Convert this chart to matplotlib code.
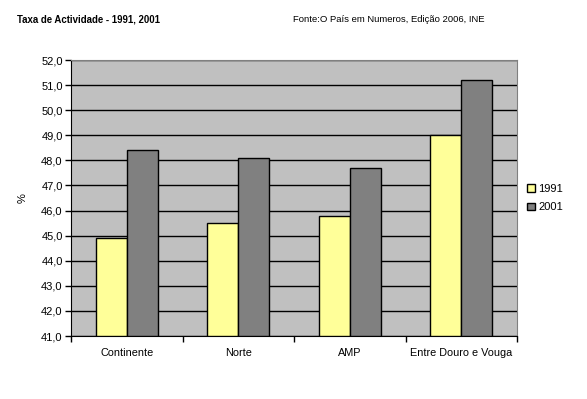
import numpy as np
import matplotlib.pyplot as plt
from matplotlib.ticker import FuncFormatter, MultipleLocator

categories = ['Continente', 'Norte', 'AMP', 'Entre Douro e Vouga']
values_1991 = [44.9, 45.5, 45.8, 49.0]
values_2001 = [48.4, 48.1, 47.7, 51.2]

plt.rcParams['font.family'] = ['Liberation Sans', 'DejaVu Sans']

fig = plt.figure(figsize=(5.87, 3.99), dpi=100)
ax = fig.add_axes([71 / 587, 63 / 399, 446 / 587, 276 / 399])
ax.set_facecolor('#C0C0C0')

x = np.arange(len(categories))
w = 0.28
ax.bar(x - w / 2, np.array(values_1991) - 41, w, bottom=41, color='#FFFF99',
       edgecolor='black', linewidth=1, label='1991', zorder=3)
ax.bar(x + w / 2, np.array(values_2001) - 41, w, bottom=41, color='#808080',
       edgecolor='black', linewidth=1, label='2001', zorder=3)

ax.set_xlim(-0.5, len(categories) - 0.5)
ax.set_ylim(41, 52)
ax.yaxis.set_major_locator(MultipleLocator(1))
ax.yaxis.set_major_formatter(FuncFormatter(lambda v, p: f"{v:.1f}".replace('.', ',')))
ax.grid(axis='y', color='black', linewidth=1, zorder=1)

ax.set_xticks(x)
ax.set_xticklabels(categories)
ax.set_xticks(np.arange(-0.5, len(categories)), minor=True)
ax.tick_params(axis='x', which='major', length=0, pad=9, labelsize=7.8)
ax.tick_params(axis='x', which='minor', length=4, direction='out', width=1)
ax.tick_params(axis='y', length=4, direction='out', width=1, labelsize=8, pad=2)

for s in ['top', 'right']:
    ax.spines[s].set_color('#808080')
for s in ['left', 'bottom']:
    ax.spines[s].set_color('black')

ax.set_ylabel('%', fontsize=8, labelpad=10)

ax.legend(loc='center left', bbox_to_anchor=(1.005, 0.5), frameon=False,
          fontsize=8, handlelength=0.7, handleheight=0.7, handletextpad=0.3,
          labelspacing=0.8, borderaxespad=0.3)

fig.text(17 / 587, 1 - 20 / 399, 'Taxa de Actividade - 1991, 2001', fontsize=6.9,
         fontweight='bold', va='center', ha='left')
fig.text(293 / 587, 1 - 20 / 399, 'Fonte:O País em Numeros, Edição 2006, INE',
         fontsize=6.8, va='center', ha='left')

fig.savefig('out.png', dpi=100, facecolor='white')
